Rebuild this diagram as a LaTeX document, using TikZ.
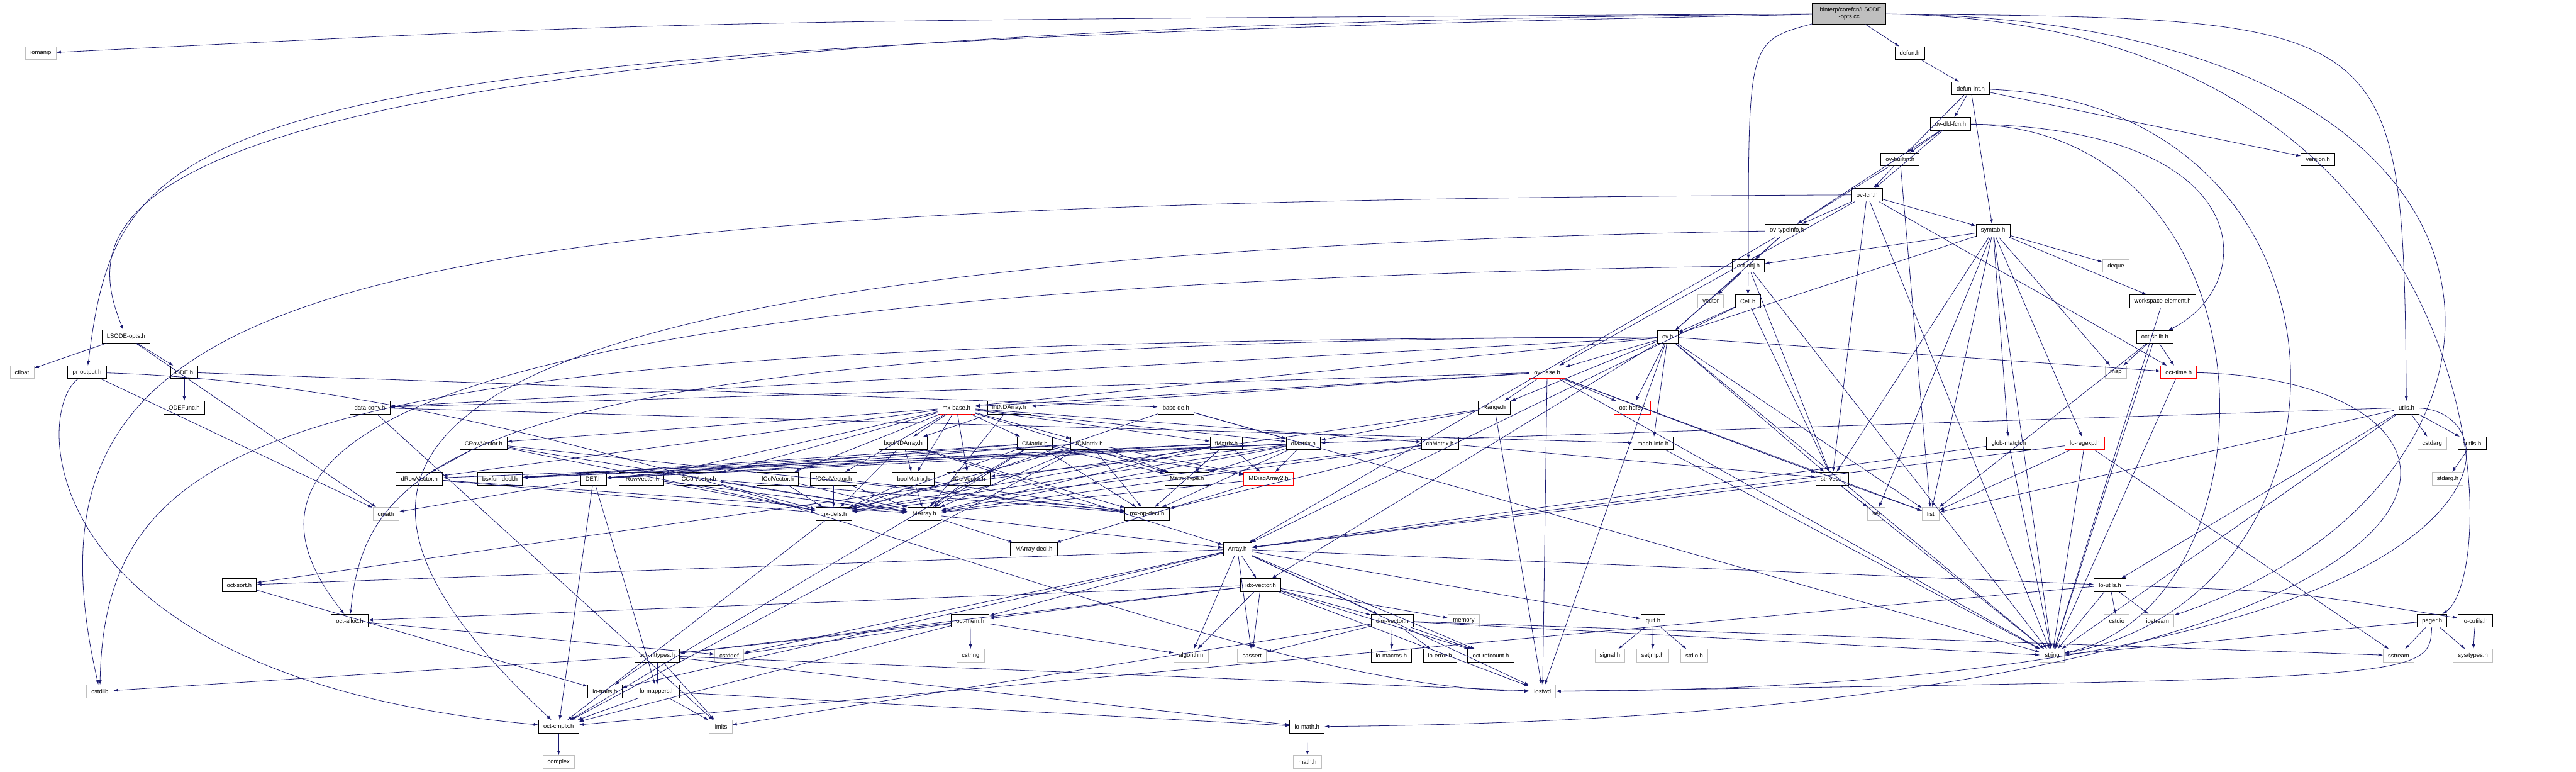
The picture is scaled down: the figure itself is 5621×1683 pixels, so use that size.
\documentclass[tikz,border=0pt]{standalone}
\usepackage{fontspec}
\setmainfont{Liberation Sans}
\usepackage{tikz}
\usetikzlibrary{arrows.meta}
\definecolor{edgeblue}{HTML}{191970}
\definecolor{sysgray}{HTML}{BFBFBF}
\definecolor{truncred}{HTML}{FF0000}

\begin{document}
\begin{tikzpicture}[x=1pt,y=-1pt]
    \tikzset{
      hdr/.style={rectangle,draw=black,fill=white,line width=1.2pt,minimum height=28pt,inner xsep=10.5pt,inner ysep=2pt,font=\fontsize{13}{15}\selectfont},
      sys/.style={hdr,draw=sysgray},
      trunc/.style={hdr,draw=truncred},
      srcfile/.style={hdr,fill=sysgray,align=center,minimum height=45pt},
      arrow/.style={-{Latex[length=10pt,width=7pt]},draw=edgeblue,line width=1.1pt}
    }
    \useasboundingbox (0,0) rectangle (5621,1683);
    % headers, row by row
    \node[srcfile] (root) at (4035,30) {libinterp/corefcn/LSODE\\-opts.cc};
    \node[sys] (iomanip) at (89,116) {iomanip};
    \node[hdr] (defun) at (4167,116) {defun.h};
    \node[hdr] (defunint) at (4300,193) {defun-int.h};
    \node[hdr] (ovdld) at (4256,270) {ov-dld-fcn.h};
    \node[hdr] (ovbuiltin) at (4146,348) {ov-builtin.h};
    \node[hdr] (version) at (5058,348) {version.h};
    \node[hdr] (ovfcn) at (4074,425) {ov-fcn.h};
    \node[hdr] (ovtypeinfo) at (3899,503) {ov-typeinfo.h};
    \node[hdr] (symtab) at (4349,503) {symtab.h};
    \node[hdr] (octobj) at (3815,580) {oct-obj.h};
    \node[sys] (deque) at (4617,580) {deque};
    \node[sys] (vector) at (3733,657) {vector};
    \node[hdr] (cell) at (3814,657) {Cell.h};
    \node[hdr] (wselem) at (4719,657) {workspace-element.h};
    \node[hdr] (lsodeopts) at (275,734) {LSODE-opts.h};
    \node[hdr] (ov) at (3639,735) {ov.h};
    \node[hdr] (octshlib) at (4702,735) {oct-shlib.h};
    \node[sys] (cfloat) at (48,812) {cfloat};
    \node[hdr] (proutput) at (190,812) {pr-output.h};
    \node[hdr] (ode) at (402,812) {ODE.h};
    \node[trunc] (ovbase) at (3376,812) {ov-base.h};
    \node[sys] (map) at (4617,812) {map};
    \node[trunc] (octtime) at (4754,812) {oct-time.h};
    \node[hdr] (odefunc) at (402,889) {ODEFunc.h};
    \node[hdr] (dataconv) at (807,889) {data-conv.h};
    \node[trunc] (mxbase) at (2087,889) {mx-base.h};
    \node[hdr] (intnd) at (2202,889) {intNDArray.h};
    \node[hdr] (basede) at (2566,889) {base-de.h};
    \node[hdr] (range) at (3261,889) {Range.h};
    \node[trunc] (hdffive) at (3562,889) {oct-hdf5.h};
    \node[hdr] (utils) at (5251,889) {utils.h};
    \node[hdr] (crowvec) at (1055,967) {CRowVector.h};
    \node[hdr] (boolnd) at (1971,967) {boolNDArray.h};
    \node[hdr] (cmatrix) at (2258,967) {CMatrix.h};
    \node[hdr] (fcmatrix) at (2377,967) {fCMatrix.h};
    \node[hdr] (fmatrix) at (2676,967) {fMatrix.h};
    \node[hdr] (dmatrix) at (2844,967) {dMatrix.h};
    \node[hdr] (chmatrix) at (3142,967) {chMatrix.h};
    \node[hdr] (machinfo) at (3607,967) {mach-info.h};
    \node[hdr] (globmatch) at (4383,967) {glob-match.h};
    \node[trunc] (loregexp) at (4549,967) {lo-regexp.h};
    \node[sys] (cstdarg) at (5307,967) {cstdarg};
    \node[hdr] (cutils) at (5394,967) {cutils.h};
    \node[hdr] (drowvec) at (915,1044) {dRowVector.h};
    \node[hdr] (bsxfun) at (1091,1044) {bsxfun-decl.h};
    \node[hdr] (det) at (1295,1044) {DET.h};
    \node[hdr] (frowvec) at (1400,1044) {fRowVector.h};
    \node[hdr] (ccolvec) at (1525,1044) {CColVector.h};
    \node[hdr] (fcolvec) at (1697,1044) {fColVector.h};
    \node[hdr] (fccolvec) at (1819,1044) {fCColVector.h};
    \node[hdr] (boolmat) at (1993,1044) {boolMatrix.h};
    \node[hdr] (dcolvec) at (2113,1044) {dColVector.h};
    \node[hdr] (mattype) at (2590,1044) {MatrixType.h};
    \node[trunc] (mdiag) at (2768,1044) {MDiagArray2.h};
    \node[hdr] (strvec) at (3998,1044) {str-vec.h};
    \node[sys] (stdargh) at (5341,1044) {stdarg.h};
    \node[sys] (cmath) at (842,1121) {cmath};
    \node[hdr] (mxdefs) at (1819,1121) {mx-defs.h};
    \node[hdr] (marray) at (2017,1121) {MArray.h};
    \node[hdr] (mxopdecl) at (2503,1121) {mx-op-decl.h};
    \node[sys] (sethdr) at (4094,1121) {set};
    \node[sys] (list) at (4213,1121) {list};
    \node[hdr] (marraydecl) at (2256,1198) {MArray-decl.h};
    \node[hdr] (array) at (2700,1198) {Array.h};
    \node[hdr] (octsort) at (522,1276) {oct-sort.h};
    \node[hdr] (idxvec) at (2751,1276) {idx-vector.h};
    \node[hdr] (loutils) at (4604,1276) {lo-utils.h};
    \node[hdr] (octalloc) at (763,1354) {oct-alloc.h};
    \node[hdr] (octmem) at (2117,1354) {oct-mem.h};
    \node[hdr] (dimvec) at (3038,1354) {dim-vector.h};
    \node[sys] (memory) at (3194,1354) {memory};
    \node[hdr] (quit) at (3607,1354) {quit.h};
    \node[sys] (cstdio) at (4619,1354) {cstdio};
    \node[sys] (iostream) at (4708,1354) {iostream};
    \node[hdr] (pager) at (5307,1354) {pager.h};
    \node[hdr] (locutils) at (5401,1354) {lo-cutils.h};
    \node[hdr] (octint) at (1434,1430) {oct-inttypes.h};
    \node[sys] (cstddef) at (1591,1430) {cstddef};
    \node[sys] (cstring) at (2118,1430) {cstring};
    \node[sys] (algorithm) at (2599,1430) {algorithm};
    \node[sys] (cassert) at (2732,1430) {cassert};
    \node[hdr] (lomacros) at (3036,1430) {lo-macros.h};
    \node[hdr] (loerror) at (3142,1430) {lo-error.h};
    \node[hdr] (refcount) at (3253,1430) {oct-refcount.h};
    \node[sys] (signalh) at (3513,1430) {signal.h};
    \node[sys] (setjmp) at (3606,1430) {setjmp.h};
    \node[sys] (stdioh) at (3697,1430) {stdio.h};
    \node[sys] (string) at (4478,1430) {string};
    \node[sys] (sstream) at (5234,1430) {sstream};
    \node[sys] (systypes) at (5396,1430) {sys/types.h};
    \node[sys] (cstdlib) at (218,1508) {cstdlib};
    \node[hdr] (lotraits) at (1320,1508) {lo-traits.h};
    \node[hdr] (lomappers) at (1434,1508) {lo-mappers.h};
    \node[sys] (iosfwd) at (3366,1508) {iosfwd};
    \node[hdr] (octcmplx) at (1219,1585) {oct-cmplx.h};
    \node[sys] (limits) at (1572,1585) {limits};
    \node[hdr] (lomath) at (2852,1585) {lo-math.h};
    \node[sys] (complex) at (1219,1662) {complex};
    \node[sys] (mathh) at (2853,1662) {math.h};
    % includes of the source file
    \draw[arrow] (root) .. controls (1500,45) .. (iomanip);
    \draw[arrow] (root) -- (defun);
    \draw[arrow] (root) .. controls (200,60) and (160,450) .. (lsodeopts);
    \draw[arrow] (root) .. controls (400,100) and (260,250) .. (proutput);
    \draw[arrow] (root) .. controls (3815,90) .. (octobj);
    \draw[arrow] (root) .. controls (5242,40) .. (utils);
    \draw[arrow] (root) .. controls (5464,45) and (5464,1250) .. (pager);
    \draw[arrow] (root) .. controls (5614,40) and (5614,1050) .. (iostream);
    % interpreter headers
    \draw[arrow] (defun) -- (defunint);
    \draw[arrow] (defunint) -- (ovbuiltin);
    \draw[arrow] (defunint) -- (ovdld);
    \draw[arrow] (defunint) -- (symtab);
    \draw[arrow] (defunint) -- (version);
    \draw[arrow] (defunint) .. controls (5186,230) and (5186,1300) .. (string);
    \draw[arrow] (ovdld) -- (ovbuiltin);
    \draw[arrow] (ovdld) -- (ovfcn);
    \draw[arrow] (ovdld) -- (ovtypeinfo);
    \draw[arrow] (ovdld) .. controls (4932,280) and (4932,620) .. (octshlib);
    \draw[arrow] (ovdld) .. controls (4984,285) and (4984,1320) .. (string);
    \draw[arrow] (ovbuiltin) -- (ovfcn);
    \draw[arrow] (ovbuiltin) -- (ovtypeinfo);
    \draw[arrow] (ovbuiltin) -- (list);
    \draw[arrow] (ovfcn) -- (ovtypeinfo);
    \draw[arrow] (ovfcn) -- (symtab);
    \draw[arrow] (ovfcn) -- (ovbase);
    \draw[arrow] (ovfcn) -- (strvec);
    \draw[arrow] (ovfcn) -- (octtime);
    \draw[arrow] (ovfcn) -- (string);
    \draw[arrow] (ovfcn) .. controls (700,440) and (10,600) .. (cstdlib);
    \draw[arrow] (ovtypeinfo) -- (octobj);
    \draw[arrow] (ovtypeinfo) -- (ov);
    \draw[arrow] (ovtypeinfo) -- (array);
    \draw[arrow] (ovtypeinfo) .. controls (700,560) and (590,1000) .. (octcmplx);
    \draw[arrow] (symtab) -- (octobj);
    \draw[arrow] (symtab) -- (deque);
    \draw[arrow] (symtab) -- (wselem);
    \draw[arrow] (symtab) -- (map);
    \draw[arrow] (symtab) -- (globmatch);
    \draw[arrow] (symtab) -- (loregexp);
    \draw[arrow] (symtab) -- (list);
    \draw[arrow] (symtab) -- (sethdr);
    \draw[arrow] (symtab) -- (string);
    \draw[arrow] (symtab) -- (ov);
    \draw[arrow] (symtab) -- (strvec);
    \draw[arrow] (wselem) -- (string);
    \draw[arrow] (octshlib) -- (map);
    \draw[arrow] (octshlib) -- (octtime);
    \draw[arrow] (octshlib) -- (string);
    \draw[arrow] (octshlib) -- (list);
    \draw[arrow] (octtime) .. controls (5564,830) and (5564,1560) .. (lomath);
    \draw[arrow] (octtime) -- (string);
    \draw[arrow] (octobj) -- (vector);
    \draw[arrow] (octobj) -- (cell);
    \draw[arrow] (octobj) -- (ov);
    \draw[arrow] (octobj) -- (strvec);
    \draw[arrow] (octobj) -- (string);
    \draw[arrow] (octobj) .. controls (700,630) and (480,1000) .. (octalloc);
    \draw[arrow] (cell) -- (ov);
    \draw[arrow] (cell) -- (strvec);
    \draw[arrow] (cell) -- (array);
    \draw[arrow] (ov) -- (ovbase);
    \draw[arrow] (ov) -- (hdffive);
    \draw[arrow] (ov) -- (machinfo);
    \draw[arrow] (ov) -- (strvec);
    \draw[arrow] (ov) -- (octtime);
    \draw[arrow] (ov) -- (mxbase);
    \draw[arrow] (ov) -- (range);
    \draw[arrow] (ov) -- (dataconv);
    \draw[arrow] (ov) -- (idxvec);
    \draw[arrow] (ov) -- (iosfwd);
    \draw[arrow] (ov) -- (string);
    \draw[arrow] (ov) -- (list);
    \draw[arrow] (ov) .. controls (1000,745) and (800,1000) .. (octalloc);
    \draw[arrow] (ov) .. controls (700,745) and (230,900) .. (cstdlib);
    \draw[arrow] (ovbase) -- (range);
    \draw[arrow] (ovbase) -- (hdffive);
    \draw[arrow] (ovbase) -- (mxbase);
    \draw[arrow] (ovbase) -- (intnd);
    \draw[arrow] (ovbase) -- (dataconv);
    \draw[arrow] (ovbase) -- (strvec);
    \draw[arrow] (ovbase) -- (iosfwd);
    \draw[arrow] (ovbase) -- (list);
    \draw[arrow] (ovbase) -- (string);
    \draw[arrow] (range) -- (dmatrix);
    \draw[arrow] (range) -- (octsort);
    \draw[arrow] (range) -- (iosfwd);
    \draw[arrow] (machinfo) -- (string);
    \draw[arrow] (dataconv) -- (machinfo);
    \draw[arrow] (dataconv) -- (limits);
    \draw[arrow] (utils) -- (dmatrix);
    \draw[arrow] (utils) -- (list);
    \draw[arrow] (utils) -- (loutils);
    \draw[arrow] (utils) -- (cstdarg);
    \draw[arrow] (utils) -- (cutils);
    \draw[arrow] (utils) -- (string);
    \draw[arrow] (utils) .. controls (5514,900) and (5514,1500) .. (iosfwd);
    \draw[arrow] (cutils) -- (stdargh);
    \draw[arrow] (globmatch) -- (array);
    \draw[arrow] (globmatch) -- (string);
    \draw[arrow] (loregexp) -- (array);
    \draw[arrow] (loregexp) -- (list);
    \draw[arrow] (loregexp) -- (string);
    \draw[arrow] (loregexp) -- (sstream);
    % ODE side
    \draw[arrow] (lsodeopts) -- (cfloat);
    \draw[arrow] (lsodeopts) -- (cmath);
    \draw[arrow] (lsodeopts) -- (ode);
    \draw[arrow] (ode) -- (odefunc);
    \draw[arrow] (ode) -- (basede);
    \draw[arrow] (proutput) -- (cmath);
    \draw[arrow] (proutput) .. controls (70,900) and (70,1480) .. (octcmplx);
    \draw[arrow] (proutput) .. controls (1400,850) and (2600,1500) .. (iosfwd);
    \draw[arrow] (basede) -- (dcolvec);
    \draw[arrow] (basede) -- (dmatrix);
    \draw[arrow] (basede) -- (string);
    % matrix classes
    \draw[arrow] (mxbase) -- (crowvec);
    \draw[arrow] (mxbase) -- (drowvec);
    \draw[arrow] (mxbase) -- (frowvec);
    \draw[arrow] (mxbase) -- (ccolvec);
    \draw[arrow] (mxbase) -- (fcolvec);
    \draw[arrow] (mxbase) -- (fccolvec);
    \draw[arrow] (mxbase) -- (dcolvec);
    \draw[arrow] (mxbase) -- (boolmat);
    \draw[arrow] (mxbase) -- (boolnd);
    \draw[arrow] (mxbase) -- (cmatrix);
    \draw[arrow] (mxbase) -- (fcmatrix);
    \draw[arrow] (mxbase) -- (fmatrix);
    \draw[arrow] (mxbase) -- (dmatrix);
    \draw[arrow] (mxbase) -- (chmatrix);
    \draw[arrow] (mxbase) -- (mattype);
    \draw[arrow] (intnd) -- (boolnd);
    \draw[arrow] (intnd) -- (marray);
    \draw[arrow] (crowvec) -- (drowvec);
    \draw[arrow] (crowvec) -- (marray);
    \draw[arrow] (crowvec) -- (mxdefs);
    \draw[arrow] (crowvec) -- (mxopdecl);
    \draw[arrow] (boolnd) -- (boolmat);
    \draw[arrow] (boolnd) -- (mxopdecl);
    \draw[arrow] (boolnd) -- (mxdefs);
    \draw[arrow] (boolnd) -- (array);
    \draw[arrow] (cmatrix) -- (marray);
    \draw[arrow] (cmatrix) -- (mdiag);
    \draw[arrow] (cmatrix) -- (mattype);
    \draw[arrow] (cmatrix) -- (mxdefs);
    \draw[arrow] (cmatrix) -- (mxopdecl);
    \draw[arrow] (cmatrix) -- (det);
    \draw[arrow] (cmatrix) -- (bsxfun);
    \draw[arrow] (cmatrix) -- (octcmplx);
    \draw[arrow] (fcmatrix) -- (marray);
    \draw[arrow] (fcmatrix) -- (mdiag);
    \draw[arrow] (fcmatrix) -- (mattype);
    \draw[arrow] (fcmatrix) -- (mxdefs);
    \draw[arrow] (fcmatrix) -- (mxopdecl);
    \draw[arrow] (fcmatrix) -- (det);
    \draw[arrow] (fcmatrix) -- (bsxfun);
    \draw[arrow] (fcmatrix) -- (octcmplx);
    \draw[arrow] (fmatrix) -- (marray);
    \draw[arrow] (fmatrix) -- (mdiag);
    \draw[arrow] (fmatrix) -- (mattype);
    \draw[arrow] (fmatrix) -- (mxdefs);
    \draw[arrow] (fmatrix) -- (mxopdecl);
    \draw[arrow] (fmatrix) -- (det);
    \draw[arrow] (fmatrix) -- (bsxfun);
    \draw[arrow] (dmatrix) -- (marray);
    \draw[arrow] (dmatrix) -- (mdiag);
    \draw[arrow] (dmatrix) -- (mattype);
    \draw[arrow] (dmatrix) -- (mxdefs);
    \draw[arrow] (dmatrix) -- (mxopdecl);
    \draw[arrow] (dmatrix) -- (det);
    \draw[arrow] (dmatrix) -- (bsxfun);
    \draw[arrow] (dmatrix) -- (drowvec);
    \draw[arrow] (dmatrix) -- (dcolvec);
    \draw[arrow] (chmatrix) -- (strvec);
    \draw[arrow] (chmatrix) -- (mxdefs);
    \draw[arrow] (chmatrix) -- (marray);
    \draw[arrow] (chmatrix) -- (mxopdecl);
    \draw[arrow] (drowvec) -- (marray);
    \draw[arrow] (drowvec) -- (mxdefs);
    \draw[arrow] (frowvec) -- (marray);
    \draw[arrow] (frowvec) -- (mxdefs);
    \draw[arrow] (ccolvec) -- (marray);
    \draw[arrow] (ccolvec) -- (mxdefs);
    \draw[arrow] (ccolvec) -- (mxopdecl);
    \draw[arrow] (fcolvec) -- (marray);
    \draw[arrow] (fcolvec) -- (mxdefs);
    \draw[arrow] (fccolvec) -- (marray);
    \draw[arrow] (fccolvec) -- (mxdefs);
    \draw[arrow] (fccolvec) -- (mxopdecl);
    \draw[arrow] (boolmat) -- (marray);
    \draw[arrow] (boolmat) -- (mxdefs);
    \draw[arrow] (boolmat) -- (mxopdecl);
    \draw[arrow] (dcolvec) -- (marray);
    \draw[arrow] (dcolvec) -- (mxdefs);
    \draw[arrow] (det) -- (cmath);
    \draw[arrow] (det) -- (octcmplx);
    \draw[arrow] (det) -- (lomappers);
    \draw[arrow] (mdiag) -- (marray);
    \draw[arrow] (mdiag) -- (marraydecl);
    \draw[arrow] (mxdefs) -- (octcmplx);
    \draw[arrow] (marray) -- (array);
    \draw[arrow] (marray) -- (marraydecl);
    \draw[arrow] (strvec) -- (sethdr);
    \draw[arrow] (strvec) -- (list);
    \draw[arrow] (strvec) -- (array);
    \draw[arrow] (strvec) -- (string);
    % liboctave utilities
    \draw[arrow] (array) -- (idxvec);
    \draw[arrow] (array) -- (algorithm);
    \draw[arrow] (array) -- (cassert);
    \draw[arrow] (array) -- (octmem);
    \draw[arrow] (array) -- (cstddef);
    \draw[arrow] (array) -- (octsort);
    \draw[arrow] (array) -- (dimvec);
    \draw[arrow] (array) -- (quit);
    \draw[arrow] (array) -- (refcount);
    \draw[arrow] (array) -- (loutils);
    \draw[arrow] (array) -- (iosfwd);
    \draw[arrow] (array) -- (lotraits);
    \draw[arrow] (idxvec) -- (cassert);
    \draw[arrow] (idxvec) -- (algorithm);
    \draw[arrow] (idxvec) -- (octmem);
    \draw[arrow] (idxvec) -- (octint);
    \draw[arrow] (idxvec) -- (octalloc);
    \draw[arrow] (idxvec) -- (dimvec);
    \draw[arrow] (idxvec) -- (memory);
    \draw[arrow] (idxvec) -- (refcount);
    \draw[arrow] (idxvec) -- (iosfwd);
    \draw[arrow] (octmem) -- (cstring);
    \draw[arrow] (octmem) -- (algorithm);
    \draw[arrow] (octmem) -- (cstddef);
    \draw[arrow] (octmem) -- (octint);
    \draw[arrow] (octmem) -- (octcmplx);
    \draw[arrow] (octint) -- (lomappers);
    \draw[arrow] (octint) -- (limits);
    \draw[arrow] (octint) -- (cstdlib);
    \draw[arrow] (octint) -- (lotraits);
    \draw[arrow] (octint) -- (lomath);
    \draw[arrow] (octint) -- (iosfwd);
    \draw[arrow] (lomappers) -- (limits);
    \draw[arrow] (lomappers) -- (lomath);
    \draw[arrow] (lomappers) -- (octcmplx);
    \draw[arrow] (lomath) -- (mathh);
    \draw[arrow] (octcmplx) -- (complex);
    \draw[arrow] (dimvec) -- (lomacros);
    \draw[arrow] (dimvec) -- (loerror);
    \draw[arrow] (dimvec) -- (refcount);
    \draw[arrow] (dimvec) -- (cassert);
    \draw[arrow] (dimvec) -- (limits);
    \draw[arrow] (dimvec) -- (sstream);
    \draw[arrow] (dimvec) -- (string);
    \draw[arrow] (quit) -- (signalh);
    \draw[arrow] (quit) -- (setjmp);
    \draw[arrow] (quit) -- (stdioh);
    \draw[arrow] (octalloc) -- (cstddef);
    \draw[arrow] (octsort) -- (lotraits);
    \draw[arrow] (pager) -- (sstream);
    \draw[arrow] (pager) -- (systypes);
    \draw[arrow] (pager) -- (string);
    \draw[arrow] (pager) .. controls (5300,1480) .. (iosfwd);
    \draw[arrow] (locutils) -- (systypes);
    \draw[arrow] (loutils) -- (cstdio);
    \draw[arrow] (loutils) -- (iostream);
    \draw[arrow] (loutils) -- (string);
    \draw[arrow] (loutils) .. controls (5000,1290) .. (locutils);
    \draw[arrow] (loutils) -- (octcmplx);
  \end{tikzpicture}
\end{document}
